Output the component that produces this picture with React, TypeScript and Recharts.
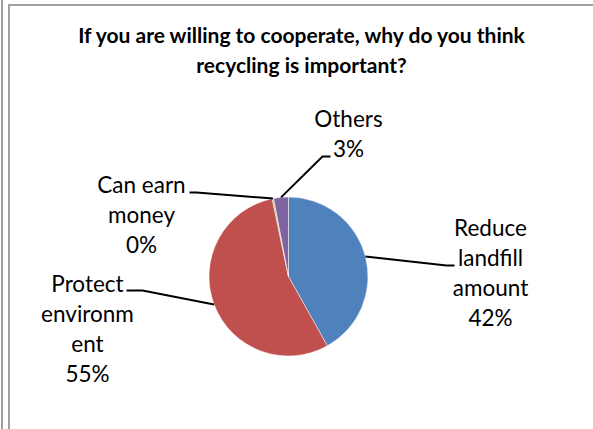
import React from "react";
import { PieChart, Pie, Cell } from "recharts";

const title = ["If you are willing to cooperate, why do you think", "recycling is important?"];
const categories = ["Reduce landfill amount", "Protect environment", "Can earn money", "Others"];
// "Can earn money" is shown as 0% but drawn as a hairline slice
const values = [42, 55, 0.3, 3];
const colors = ["#4f81bd", "#c0504d", "#9bbb59", "#8064a2"];

const data = categories.map((name, i) => ({ name, value: values[i] }));

// label placement, relative to the pie centre (Excel-style manual layout)
const labelLayout = [
  { lines: ["Reduce", "landfill", "amount"], elbow: [158, -11], end: [166, -11], tx: 202, ty: -41 },
  { lines: ["Protect", "environm", "ent"], elbow: [-146, 14], end: [-162, 14], tx: -201, ty: 15 },
  { lines: ["Can earn", "money"], elbow: [-92, -84], end: [-99, -84], tx: -147, ty: -84 },
  { lines: ["Others"], elbow: [34, -120], end: [42, -120], tx: 60, ty: -150 },
];

const RADIAN = Math.PI / 180;
const FONT = "Lato, 'Liberation Sans', sans-serif";

const renderLabel = (props: any) => {
  const { cx, cy, midAngle, outerRadius, index, percent } = props;
  const l = labelLayout[index];
  const sx = cx + outerRadius * Math.cos(-midAngle * RADIAN);
  const sy = cy + outerRadius * Math.sin(-midAngle * RADIAN);
  const lines = [...l.lines, `${Math.round(percent * 100)}%`];
  return (
    <g key={`lbl-${index}`}>
      <polyline
        points={`${sx},${sy} ${cx + l.elbow[0]},${cy + l.elbow[1]} ${cx + l.end[0]},${cy + l.end[1]}`}
        fill="none"
        stroke="#000"
        strokeWidth={2}
      />
      <text
        x={cx + l.tx}
        y={cy + l.ty}
        textAnchor="middle"
        fill="#000"
        style={{ fontFamily: FONT, fontSize: 22.5 }}
      >
        {lines.map((t, i) => (
          <tspan key={i} x={cx + l.tx} y={cy + l.ty + i * 30}>
            {t}
          </tspan>
        ))}
      </text>
    </g>
  );
};

export default function App() {
  return (
    <div style={{ position: "absolute", left: 0, top: 0, width: 593, height: 429, background: "#fff", overflow: "hidden" }}>
      {/* frame lines */}
      <div style={{ position: "absolute", left: 1, top: 0, width: 2, height: 429, background: "#a0a0a0" }} />
      <div style={{ position: "absolute", left: 8, top: 4, width: 2, height: 425, background: "#a0a0a0" }} />
      <div style={{ position: "absolute", left: 8, top: 4, width: 585, height: 2, background: "#a0a0a0" }} />
      <div
        style={{
          position: "absolute",
          left: 10,
          top: 20,
          width: 583,
          textAlign: "center",
          fontFamily: FONT,
          fontWeight: "bold",
          fontSize: 21,
          lineHeight: "30px",
          color: "#000",
        }}
      >
        {title.map((t) => (
          <div key={t}>{t}</div>
        ))}
      </div>
      <div style={{ position: "absolute", left: 0, top: 0 }}>
        <PieChart width={593} height={429} margin={{ top: 0, right: 0, bottom: 0, left: 0 }}>
          <Pie
            data={data}
            dataKey="value"
            nameKey="name"
            cx={288.5}
            cy={276.5}
            outerRadius={79.5}
            startAngle={90}
            endAngle={-270}
            stroke="#ffffff"
            strokeWidth={0.5}
            labelLine={false}
            label={renderLabel}
            isAnimationActive={false}
          >
            {data.map((d, i) => (
              <Cell key={d.name} fill={colors[i]} />
            ))}
          </Pie>
        </PieChart>
      </div>
    </div>
  );
}
